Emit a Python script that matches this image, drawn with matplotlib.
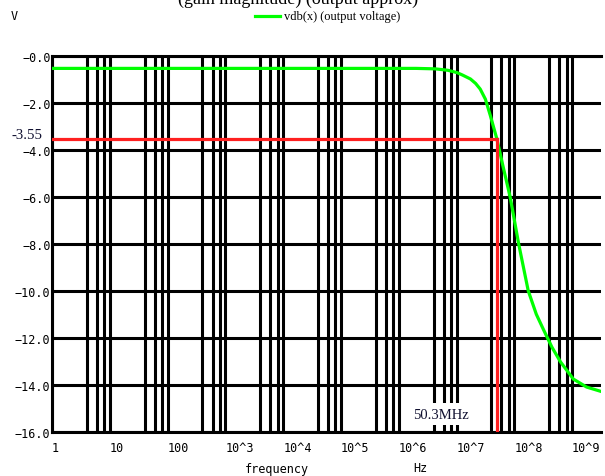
import matplotlib
matplotlib.use("Agg")
import matplotlib.pyplot as plt
import matplotlib.lines as mlines
import matplotlib.ticker as mticker

# ---- data ----
freq = [1, 1e3, 2.0e6, 4.3e6, 7.08e6, 1.02e7, 1.26e7, 1.74e7, 2.14e7, 2.57e7,
        3.16e7, 3.85e7, 5.0e7, 6.3e7, 8.5e7, 1.19e8, 1.74e8, 2.4e8, 3.16e8,
        4.47e8, 6.3e8, 1.05e9, 1.78e9, 3.3e9]
vdb = [-0.54, -0.54, -0.54, -0.56, -0.62, -0.72, -0.82, -0.99, -1.18, -1.42,
       -1.85, -2.55, -3.55, -4.65, -6.03, -8.01, -10.0, -11.0, -11.63,
       -12.4, -13.03, -13.76, -14.1, -14.3]
marker_freq = 50.3e6
marker_db = -3.55
x_ticks = [1, 10, 100, 1e3, 1e4, 1e5, 1e6, 1e7, 1e8, 1e9]
x_tick_labels = ["1", "10", "100", "10^3", "10^4", "10^5", "10^6", "10^7", "10^8", "10^9"]
y_ticks = [0, -2, -4, -6, -8, -10, -12, -14, -16]
y_tick_labels = ["\u22120.0", "\u22122.0", "\u22124.0", "\u22126.0", "\u22128.0",
                 "\u221210.0", "\u221212.0", "\u221214.0", "\u221216.0"]
minor_mult = [4, 6, 8]

W, H = 605, 477
fig = plt.figure(figsize=(W / 100, H / 100), dpi=100)
L, R, T, B = 52, 601, 56.7, 432.7
ax = fig.add_axes([L / W, 1 - B / H, (R - L) / W, (B - T) / H])

ax.set_xscale("log")
ax.set_xlim(1, 10 ** 9.5)
ax.set_ylim(-16, 0)

minor = [m * d for d in x_ticks[:-1] for m in minor_mult]
ax.set_xticks(x_ticks)
ax.set_xticks(minor, minor=True)
ax.set_xticklabels(x_tick_labels, fontfamily="DejaVu Sans Mono", fontsize=8.5, ha="left")
ax.set_yticks(y_ticks)
ax.set_yticklabels(y_tick_labels, fontfamily="DejaVu Sans Mono", fontsize=8.5)
ax.tick_params(which="both", length=0)
ax.tick_params(axis="x", pad=7)
ax.tick_params(axis="y", pad=1)
ax.xaxis.set_minor_formatter(mticker.NullFormatter())

ax.grid(True, which="both", color="black", linewidth=2.2)
ax.set_axisbelow(True)
for s in ax.spines.values():
    s.set_linewidth(2.2)
    s.set_color("black")
ax.spines["right"].set_visible(False)

# curve
ax.plot(freq, vdb, color="#00ff00", linewidth=2.3, zorder=3)
# marker lines
ax.plot([1, marker_freq], [marker_db, marker_db], color="#ff2020", linewidth=2.3, zorder=4)
ax.plot([marker_freq, marker_freq], [marker_db, -16], color="#ff2020", linewidth=2.3, zorder=4)

fig.text(12 / W, 1 - 135.5 / H, "-3.55", fontfamily="Liberation Serif", fontsize=10.7,
         ha="left", va="center", color="#101030")
ax.text(marker_freq / 3.1, -15.25, "50.3MHz", fontfamily="Liberation Serif", fontsize=10.5,
        ha="right", va="center", color="#101030", zorder=5,
        bbox=dict(facecolor="white", edgecolor="none", pad=3))

# labels
fig.text(277 / W, 1 - 470 / H, "frequency", fontfamily="DejaVu Sans Mono", fontsize=8.5,
         ha="center", va="center")
fig.text(420 / W, 1 - 469 / H, "Hz", fontfamily="DejaVu Sans Mono", fontsize=8.5,
         ha="center", va="center")
fig.text(14 / W, 1 - 17 / H, "V", fontfamily="DejaVu Sans Mono", fontsize=8.5,
         ha="center", va="center")

# legend
fig.add_artist(mlines.Line2D([255 / W, 280 / W], [1 - 16.7 / H, 1 - 16.7 / H],
                             color="#00ff00", linewidth=2.3))
fig.text(284 / W, 1 - 17 / H, "vdb(x) (output voltage)", fontfamily="Liberation Serif",
         fontsize=9, ha="left", va="center")

# title (clipped at the top edge, as in the reference)
fig.text(298 / W, 1 - 4 / H, "(gain magnitude) (output approx)", fontfamily="Liberation Serif",
         fontsize=13, ha="center", va="baseline")

fig.savefig("out.png", dpi=100)
